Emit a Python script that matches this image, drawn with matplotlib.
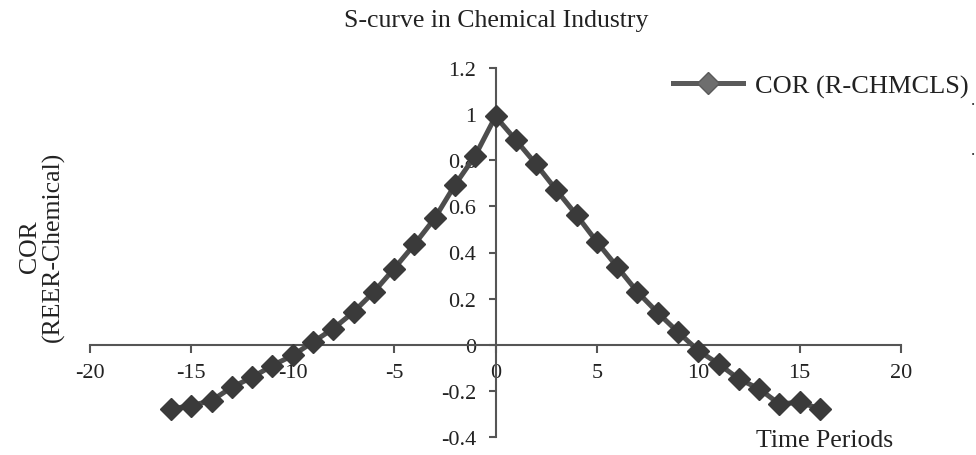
import matplotlib
matplotlib.use("Agg")
import matplotlib.pyplot as plt
from matplotlib.ticker import FixedLocator

periods = list(range(-16, 17))
cor_values = [-0.278, -0.264, -0.242, -0.184, -0.141, -0.090, -0.046, 0.012,
              0.070, 0.142, 0.229, 0.330, 0.435, 0.548, 0.693, 0.820, 0.990,
              0.888, 0.783, 0.671, 0.562, 0.446, 0.338, 0.229, 0.139, 0.055,
              -0.025, -0.083, -0.148, -0.191, -0.257, -0.249, -0.278]
x_ticks = [-20, -15, -10, -5, 0, 5, 10, 15, 20]
x_tick_labels = ["-20", "-15", "-10", "-5", "0", "5", "10", "15", "20"]
y_ticks = [-0.4, -0.2, 0, 0.2, 0.4, 0.6, 0.8, 1, 1.2]
y_tick_labels = ["-0.4", "-0.2", "0", "0.2", "0.4", "0.6", "0.8", "1", "1.2"]

plt.rcParams['font.family'] = ['Liberation Serif', 'DejaVu Serif']

fig = plt.figure(figsize=(9.76, 4.56), dpi=100)
W, H = 976, 456
ax = fig.add_axes([90 / W, 1 - 438 / H, (901 - 90) / W, (438 - 69) / H])

ax.plot(periods, cor_values, color='#4d4d4d', lw=3.6, marker='D', markersize=11,
        markerfacecolor='#3a3a3a', markeredgecolor='#3a3a3a',
        label='COR (R-CHMCLS)', zorder=3)

ax.set_xlim(-20, 20)
ax.set_ylim(-0.4, 1.2)
for s in ['top', 'right']:
    ax.spines[s].set_visible(False)
ax.spines['left'].set_position(('data', 0))
ax.spines['bottom'].set_position(('data', 0))
for s in ['left', 'bottom']:
    ax.spines[s].set_color('#555555')
    ax.spines[s].set_linewidth(1.5)

ax.xaxis.set_major_locator(FixedLocator(x_ticks))
ax.set_xticklabels(x_tick_labels)
ax.yaxis.set_major_locator(FixedLocator(y_ticks))
ax.set_yticklabels(y_tick_labels)
ax.tick_params(axis='both', direction='out', width=1.5,
               colors='#555555', labelcolor='#222222', labelsize=16)
ax.tick_params(axis='x', length=6, pad=7)
ax.tick_params(axis='y', length=5, pad=9)

ax.patch.set_alpha(0)

fig.text(496 / W, 1 - 21 / H, 'S-curve in Chemical Industry', ha='center', va='center',
         fontsize=18.5, color='#222222')
fig.text(42 / W, 1 - 247 / H, 'COR\n(REER-Chemical)', ha='center', va='center',
         rotation=90, fontsize=18.5, color='#222222', linespacing=1.0)
fig.text(825 / W, 1 - 441 / H, 'Time Periods', ha='center', va='center',
         fontsize=18.5, color='#222222')
fig.text(973 / W, 1 - 101 / H, '.', ha='center', va='center', fontsize=12, color='#222222')
fig.text(973 / W, 1 - 151 / H, '.', ha='center', va='center', fontsize=12, color='#222222')

leg = fig.legend(loc='center left', bbox_to_anchor=(673 / W, 1 - 87 / H),
                 frameon=False, fontsize=19, handlelength=2.65, handletextpad=0.45,
                 borderaxespad=0, borderpad=0)
for t in leg.get_texts():
    t.set_color('#222222')
for h in leg.legend_handles:
    h.set_markerfacecolor('#6e6e6e')
    h.set_markeredgecolor('#5a5a5a')
    h.set_color('#5a5a5a')

fig.savefig('out.png', dpi=100)
